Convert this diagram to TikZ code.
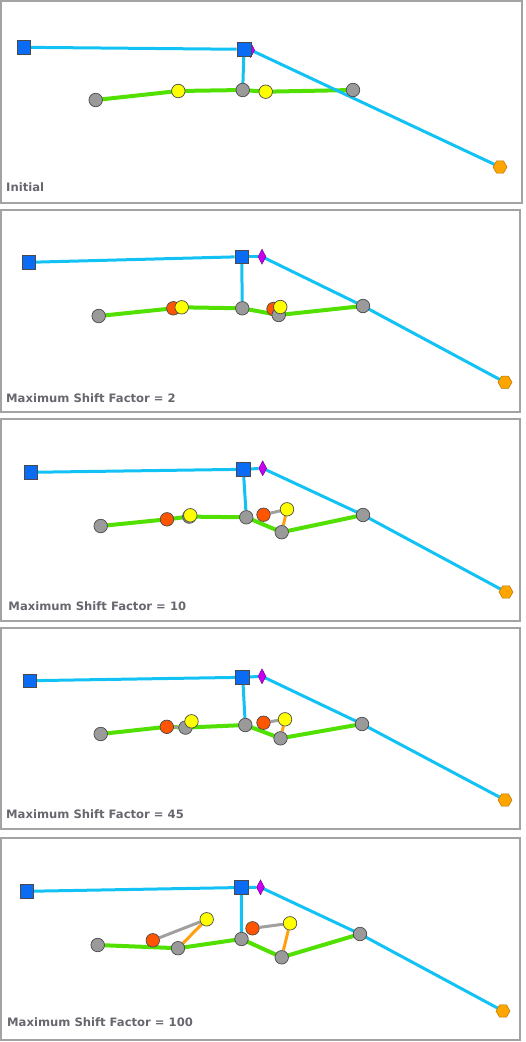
\documentclass[tikz,border=0pt]{standalone}
\usepackage{fontspec}
\setmainfont{DejaVu Sans}
\usetikzlibrary{shapes.geometric}
\pgfdeclarelayer{bg}
\pgfsetlayers{bg,main}
\definecolor{frameC}{HTML}{A3A3A3}
\definecolor{sqC}{HTML}{0A6CF5}
\definecolor{blueL}{HTML}{12C2F5}
\definecolor{greenL}{HTML}{52E000}
\definecolor{grayC}{HTML}{9A9A9A}
\definecolor{yelC}{HTML}{FFFF00}
\definecolor{redC}{HTML}{FF5500}
\definecolor{hexC}{HTML}{FFA500}
\definecolor{diaC}{HTML}{C800F0}
\definecolor{linkG}{HTML}{A0A0A0}
\definecolor{linkO}{HTML}{FFA010}
\definecolor{txtC}{HTML}{68666E}
\definecolor{outC}{HTML}{4A4A4A}
\tikzset{
  panelbox/.style={draw=frameC, line width=2pt},
  sqnode/.style={rectangle, draw=outC, line width=0.8pt, fill=sqC, minimum size=13.5pt, inner sep=0pt},
  gnode/.style={circle, draw=outC, line width=0.7pt, fill=grayC, minimum size=13.5pt, inner sep=0pt},
  ynode/.style={circle, draw=outC, line width=0.7pt, fill=yelC, minimum size=13.5pt, inner sep=0pt},
  rnode/.style={circle, draw=outC, line width=0.7pt, fill=redC, minimum size=13.5pt, inner sep=0pt},
  hxnode/.style={regular polygon, regular polygon sides=6, draw=hexC!70!black, line width=0.5pt, fill=hexC, minimum size=14pt, inner sep=0pt},
  dnode/.style={diamond, draw=diaC!60!black, line width=0.5pt, fill=diaC, minimum width=8pt, minimum height=15pt, inner sep=0pt},
  bline/.style={draw=blueL, line width=3pt},
  gline/.style={draw=greenL, line width=4pt},
  glink/.style={draw=linkG, line width=3pt},
  olink/.style={draw=linkO, line width=3pt},
  lab/.style={anchor=base west, text=txtC, font=\bfseries\fontsize{11.6}{13}\selectfont, inner sep=0pt},
}
\begin{document}
\begin{tikzpicture}[x=1pt,y=-1pt]
\useasboundingbox (0,0) rectangle (526,1042);
% frames
\draw[panelbox] (1,1) rectangle (522,202.5);
\draw[panelbox] (1,210) rectangle (520,411.5);
\draw[panelbox] (1,419) rectangle (520,621);
\draw[panelbox] (1,628) rectangle (520,829);
\draw[panelbox] (1,838) rectangle (520,1039.5);

% ---------- Panel 1 ----------
\node[dnode] (aD) at (250.7,50) {};
\node[sqnode] (aL) at (24,47.3) {};
\node[sqnode, minimum size=14pt] (aC) at (244,49.3) {};
\node[hxnode] (aH) at (500,167) {};
\node[gnode] (aG1) at (95.7,100) {};
\node[gnode] (aG2) at (242.7,90) {};
\node[gnode] (aG3) at (353,90) {};
\node[ynode] (aY1) at (178.3,91) {};
\node[ynode] (aY2) at (265.7,91.7) {};
\node[lab] (aT) at (6,191) {Initial};
\begin{pgfonlayer}{bg}
\draw[gline] (aG1.center) -- (aY1.center) -- (aG2.center) -- (aY2.center) -- (aG3.center);
\draw[bline] (aL) -- (aC);
\draw[bline] (aC) -- (aG2);
\draw[bline] (aD.center) -- (aH);
\end{pgfonlayer}

% ---------- Panel 2 ----------
\node[sqnode] (bL) at (29,262.3) {};
\node[sqnode] (bC) at (241.7,256.7) {};
\node[dnode] (bD) at (262,256.7) {};
\node[hxnode] (bH) at (505,382.3) {};
\node[gnode] (bG1) at (98.7,316) {};
\node[gnode] (bG2) at (242.3,308.3) {};
\node[gnode] (bG4) at (363,306) {};
\node[rnode] (bR1) at (173.3,308.3) {};
\node[ynode] (bY1) at (181.7,307.3) {};
\node[rnode] (bR2) at (273.5,309) {};
\node[gnode] (bG3) at (278.7,315) {};
\node[ynode] (bY2) at (280.3,307) {};
\node[lab] (bT) at (6,402) {Maximum Shift Factor = 2};
\begin{pgfonlayer}{bg}
\draw[gline] (bG1.center) -- (bR1.center) -- (bY1.center) -- (bG2.center) -- (bG3.center) -- (bG4.center);
\draw[bline] (bL) -- (bC);
\draw[bline] (bC) -- (bD);
\draw[bline] (bC) -- (bG2);
\draw[bline] (bD.center) -- (bG4.center) -- (bH);
\end{pgfonlayer}

% ---------- Panel 3 ----------
\node[sqnode] (cL) at (31,472.3) {};
\node[sqnode, minimum size=14pt] (cC) at (243.3,469.3) {};
\node[dnode] (cD) at (262.7,468.3) {};
\node[hxnode] (cH) at (506,592) {};
\node[gnode] (cG1) at (100.7,526) {};
\node[rnode] (cR1) at (167,519.3) {};
\node[gnode] (cGh) at (189.3,516.6) {};
\node[ynode] (cY1) at (190.3,515.3) {};
\node[gnode] (cG2) at (246.3,517.3) {};
\node[rnode] (cR2) at (263.5,514.7) {};
\node[ynode] (cY2) at (287,509.3) {};
\node[gnode] (cG3) at (281.7,532.2) {};
\node[gnode] (cG4) at (363,515) {};
\node[lab] (cT) at (8.3,610.5) {Maximum Shift Factor = 10};
\begin{pgfonlayer}{bg}
\draw[gline] (cG1.center) -- (cR1.center) -- (cGh.center) -- (cG2.center) -- (cG3.center) -- (cG4.center);
\draw[bline] (cL) -- (cC);
\draw[bline] (cC) -- (cD);
\draw[bline] (cC) -- (cG2);
\draw[bline] (cD.center) -- (cG4.center) -- (cH);
\draw[glink] (cR2) -- (cY2);
\draw[olink] (cY2) -- (cG3);
\end{pgfonlayer}

% ---------- Panel 4 ----------
\node[sqnode] (dL) at (29.7,680.7) {};
\node[sqnode, minimum size=14pt] (dC) at (242.7,677.3) {};
\node[dnode] (dD) at (262,676.3) {};
\node[hxnode] (dH) at (505,800) {};
\node[gnode] (dG1) at (100.7,734) {};
\node[rnode] (dR1) at (166.8,726.8) {};
\node[gnode] (dGm) at (185.5,727.6) {};
\node[ynode] (dY1) at (191.5,721.3) {};
\node[gnode] (dG2) at (245.3,725) {};
\node[rnode] (dR2) at (263.5,722.7) {};
\node[ynode] (dY2) at (285,719.3) {};
\node[gnode] (dG3) at (280.5,738.3) {};
\node[gnode] (dG4) at (362,724) {};
\node[lab] (dT) at (6,818.7) {Maximum Shift Factor = 45};
\begin{pgfonlayer}{bg}
\draw[gline] (dG1.center) -- (dR1.center) -- (dGm.center) -- (dG2.center) -- (dG3.center) -- (dG4.center);
\draw[bline] (dL) -- (dC);
\draw[bline] (dC) -- (dD);
\draw[bline] (dC) -- (dG2);
\draw[bline] (dD.center) -- (dG4.center) -- (dH);
\draw[glink] (dR1) -- (dGm);
\draw[olink] (dGm) -- (dY1);
\draw[glink] (dR2) -- (dY2);
\draw[olink] (dY2) -- (dG3);
\end{pgfonlayer}

% ---------- Panel 5 ----------
\node[sqnode] (eL) at (27,891.3) {};
\node[sqnode, minimum size=14pt] (eC) at (241.3,887.5) {};
\node[dnode] (eD) at (260.5,887.3) {};
\node[hxnode] (eH) at (503,1011) {};
\node[gnode] (eG1) at (97.7,945) {};
\node[rnode] (eR1) at (152.8,940.3) {};
\node[gnode] (eG2) at (178,948.2) {};
\node[ynode] (eY1) at (206.7,919.3) {};
\node[gnode] (eG3) at (241.5,939) {};
\node[rnode] (eR2) at (252.5,928.3) {};
\node[ynode] (eY2) at (290,923.3) {};
\node[gnode] (eG4) at (281.7,957.3) {};
\node[gnode] (eG5) at (360,934) {};
\node[lab] (eT) at (7,1026.3) {Maximum Shift Factor = 100};
\begin{pgfonlayer}{bg}
\draw[gline] (eG1.center) -- (eG2.center) -- (eG3.center) -- (eG4.center) -- (eG5.center);
\draw[bline] (eL) -- (eC);
\draw[bline] (eC) -- (eD);
\draw[bline] (eC) -- (eG3);
\draw[bline] (eD.center) -- (eG5.center) -- (eH);
\draw[glink] (eR1) -- (eY1);
\draw[olink] (eY1) -- (eG2);
\draw[glink] (eR2) -- (eY2);
\draw[olink] (eY2) -- (eG4);
\end{pgfonlayer}
\end{tikzpicture}
\end{document}
